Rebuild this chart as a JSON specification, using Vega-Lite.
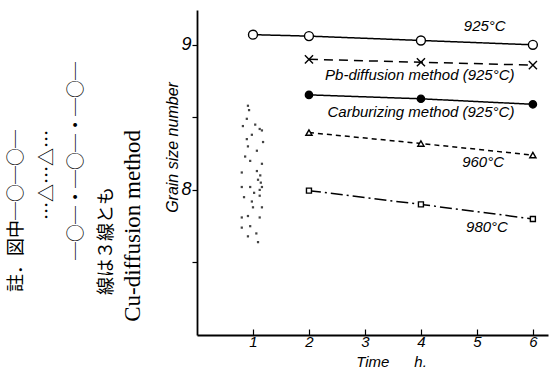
{
  "$schema": "https://vega.github.io/schema/vega-lite/v6.json",
  "width": 351,
  "height": 325,
  "autosize": "none",
  "padding": {"left": 197, "top": 10, "right": 10, "bottom": 39},
  "background": "white",
  "config": {
    "view": {"stroke": null},
    "axis": {"grid": false, "domainColor": "black", "domainWidth": 1.8, "tickColor": "black", "tickWidth": 1.2, "labelColor": "black", "titleColor": "black", "labelFont": "Liberation Sans", "titleFont": "Liberation Sans"}
  },
  "datasets": {
    "series": [
      {"s": "A", "x": 1, "y": 9.07},
      {"s": "A", "x": 2, "y": 9.06},
      {"s": "A", "x": 4, "y": 9.03},
      {"s": "A", "x": 6, "y": 9.0},
      {"s": "B", "x": 2, "y": 8.9},
      {"s": "B", "x": 4, "y": 8.88},
      {"s": "B", "x": 6, "y": 8.86},
      {"s": "C", "x": 2, "y": 8.655},
      {"s": "C", "x": 4, "y": 8.628},
      {"s": "C", "x": 6, "y": 8.59},
      {"s": "D", "x": 2, "y": 8.395},
      {"s": "D", "x": 4, "y": 8.32},
      {"s": "D", "x": 6, "y": 8.24},
      {"s": "E", "x": 2, "y": 7.995},
      {"s": "E", "x": 4, "y": 7.9},
      {"s": "E", "x": 6, "y": 7.8}
    ],
    "specks": [
      {"x": 0.91, "y": 8.58}, {"x": 0.93, "y": 8.55}, {"x": 0.89, "y": 8.49}, {"x": 0.82, "y": 8.44}, {"x": 1.04, "y": 8.45},
      {"x": 1.16, "y": 8.41}, {"x": 1.12, "y": 8.42}, {"x": 0.89, "y": 8.35}, {"x": 0.91, "y": 8.3}, {"x": 1.07, "y": 8.27},
      {"x": 1.18, "y": 8.33}, {"x": 0.86, "y": 8.23}, {"x": 0.95, "y": 8.2}, {"x": 1.16, "y": 8.18},
      {"x": 0.8, "y": 8.12}, {"x": 1.07, "y": 8.13}, {"x": 1.09, "y": 8.07}, {"x": 0.8, "y": 8.02},
      {"x": 0.95, "y": 8.02}, {"x": 1.16, "y": 8.02}, {"x": 1.12, "y": 7.96}, {"x": 0.98, "y": 7.92},
      {"x": 1.0, "y": 7.88}, {"x": 1.16, "y": 7.88}, {"x": 0.8, "y": 7.81}, {"x": 0.91, "y": 7.82},
      {"x": 1.12, "y": 7.81}, {"x": 0.8, "y": 7.74}, {"x": 0.95, "y": 7.75}, {"x": 0.91, "y": 7.68},
      {"x": 1.09, "y": 7.64}, {"x": 1.13, "y": 8.1}, {"x": 1.12, "y": 8.0}, {"x": 1.14, "y": 8.05},
      {"x": 0.98, "y": 8.38}, {"x": 1.02, "y": 7.98}, {"x": 0.84, "y": 7.95}, {"x": 1.06, "y": 7.7}
    ],
    "notes": [
      {"t": "925°C", "x": 5.14, "y": 9.13},
      {"t": "Pb-diffusion method (925°C)", "x": 3.98, "y": 8.79},
      {"t": "Carburizing method (925°C)", "x": 4.0, "y": 8.54},
      {"t": "960°C", "x": 5.11, "y": 8.19},
      {"t": "980°C", "x": 5.18, "y": 7.745}
    ],
    "jp": [
      {"t": "註．図中─○─○─", "x": -3.214, "y": 7.855},
      {"t": "…△…△…", "x": -2.661, "y": 8.103},
      {"t": "─○─・─○─・─○─", "x": -2.143, "y": 8.2},
      {"t": "線は３線とも", "x": -1.607, "y": 7.648}
    ],
    "en": [
      {"t": "Cu-diffusion method", "x": -1.143, "y": 7.752}
    ]
  },
  "encoding": {
    "x": {
      "field": "x", "type": "quantitative",
      "scale": {"domain": [0, 6.27], "nice": false, "zero": false},
      "axis": {"values": [1, 2, 3, 4, 5, 6], "format": "d", "tickSize": -6, "labelPadding": 5, "labelFontStyle": "italic", "labelFontSize": 15, "title": "Time\u00a0\u00a0\u00a0\u00a0\u00a0\u00a0h.", "titleFontStyle": "italic", "titleFontWeight": "normal", "titleFontSize": 15, "titleX": 194, "titleY": 26, "titleBaseline": "middle", "titleAlign": "center"}
    },
    "y": {
      "field": "y", "type": "quantitative",
      "scale": {"domain": [7, 9.24], "nice": false, "zero": false},
      "axis": {"values": [7.5, 8, 8.5, 9], "labelExpr": "datum.value == 8 ? '8' : datum.value == 9 ? '9' : ''", "tickSize": 5, "labelPadding": 1, "labelFontStyle": "italic", "labelFontSize": 18, "title": "Grain size number", "titleFontStyle": "italic", "titleFontWeight": "normal", "titleFontSize": 16, "titleAngle": 270, "titleX": -25, "titleY": 137, "titleAlign": "center", "titleBaseline": "middle"}
    }
  },
  "layer": [
    {
      "data": {"name": "specks"},
      "mark": {"type": "point", "shape": "square", "size": 5, "filled": true, "color": "#222", "opacity": 0.85}
    },
    {
      "data": {"name": "series"},
      "mark": {"type": "line", "color": "black", "strokeWidth": 1.5},
      "encoding": {
        "detail": {"field": "s"},
        "strokeDash": {"field": "s", "type": "nominal", "legend": null, "scale": {"domain": ["A", "B", "C", "D", "E"], "range": [[1, 0], [9, 6], [1, 0], [5, 4], [12, 4, 2, 4]]}}
      }
    },
    {
      "data": {"name": "series"},
      "mark": {"type": "point", "stroke": "black", "strokeWidth": 1.4, "opacity": 1},
      "encoding": {
        "shape": {"field": "s", "type": "nominal", "legend": null, "scale": {"domain": ["A", "B", "C", "D", "E"], "range": ["circle", "M-1,-1L1,1M-1,1L1,-1", "circle", "triangle-up", "square"]}},
        "fill": {"field": "s", "type": "nominal", "legend": null, "scale": {"domain": ["A", "B", "C", "D", "E"], "range": ["white", "transparent", "black", "white", "white"]}},
        "size": {"field": "s", "type": "nominal", "legend": null, "scale": {"domain": ["A", "B", "C", "D", "E"], "range": [80, 25, 80, 50, 45]}}
      }
    },
    {
      "data": {"name": "notes"},
      "mark": {"type": "text", "font": "Liberation Sans", "fontStyle": "italic", "fontSize": 15, "color": "black", "align": "center", "baseline": "middle"},
      "encoding": {"text": {"field": "t"}}
    },
    {
      "data": {"name": "jp"},
      "mark": {"type": "text", "font": "Noto Sans CJK JP", "fontSize": 18, "angle": 270, "color": "black", "align": "center", "baseline": "middle"},
      "encoding": {"text": {"field": "t"}}
    },
    {
      "data": {"name": "en"},
      "mark": {"type": "text", "font": "Liberation Serif", "fontSize": 23, "angle": 270, "color": "black", "align": "center", "baseline": "middle"},
      "encoding": {"text": {"field": "t"}}
    }
  ]
}
